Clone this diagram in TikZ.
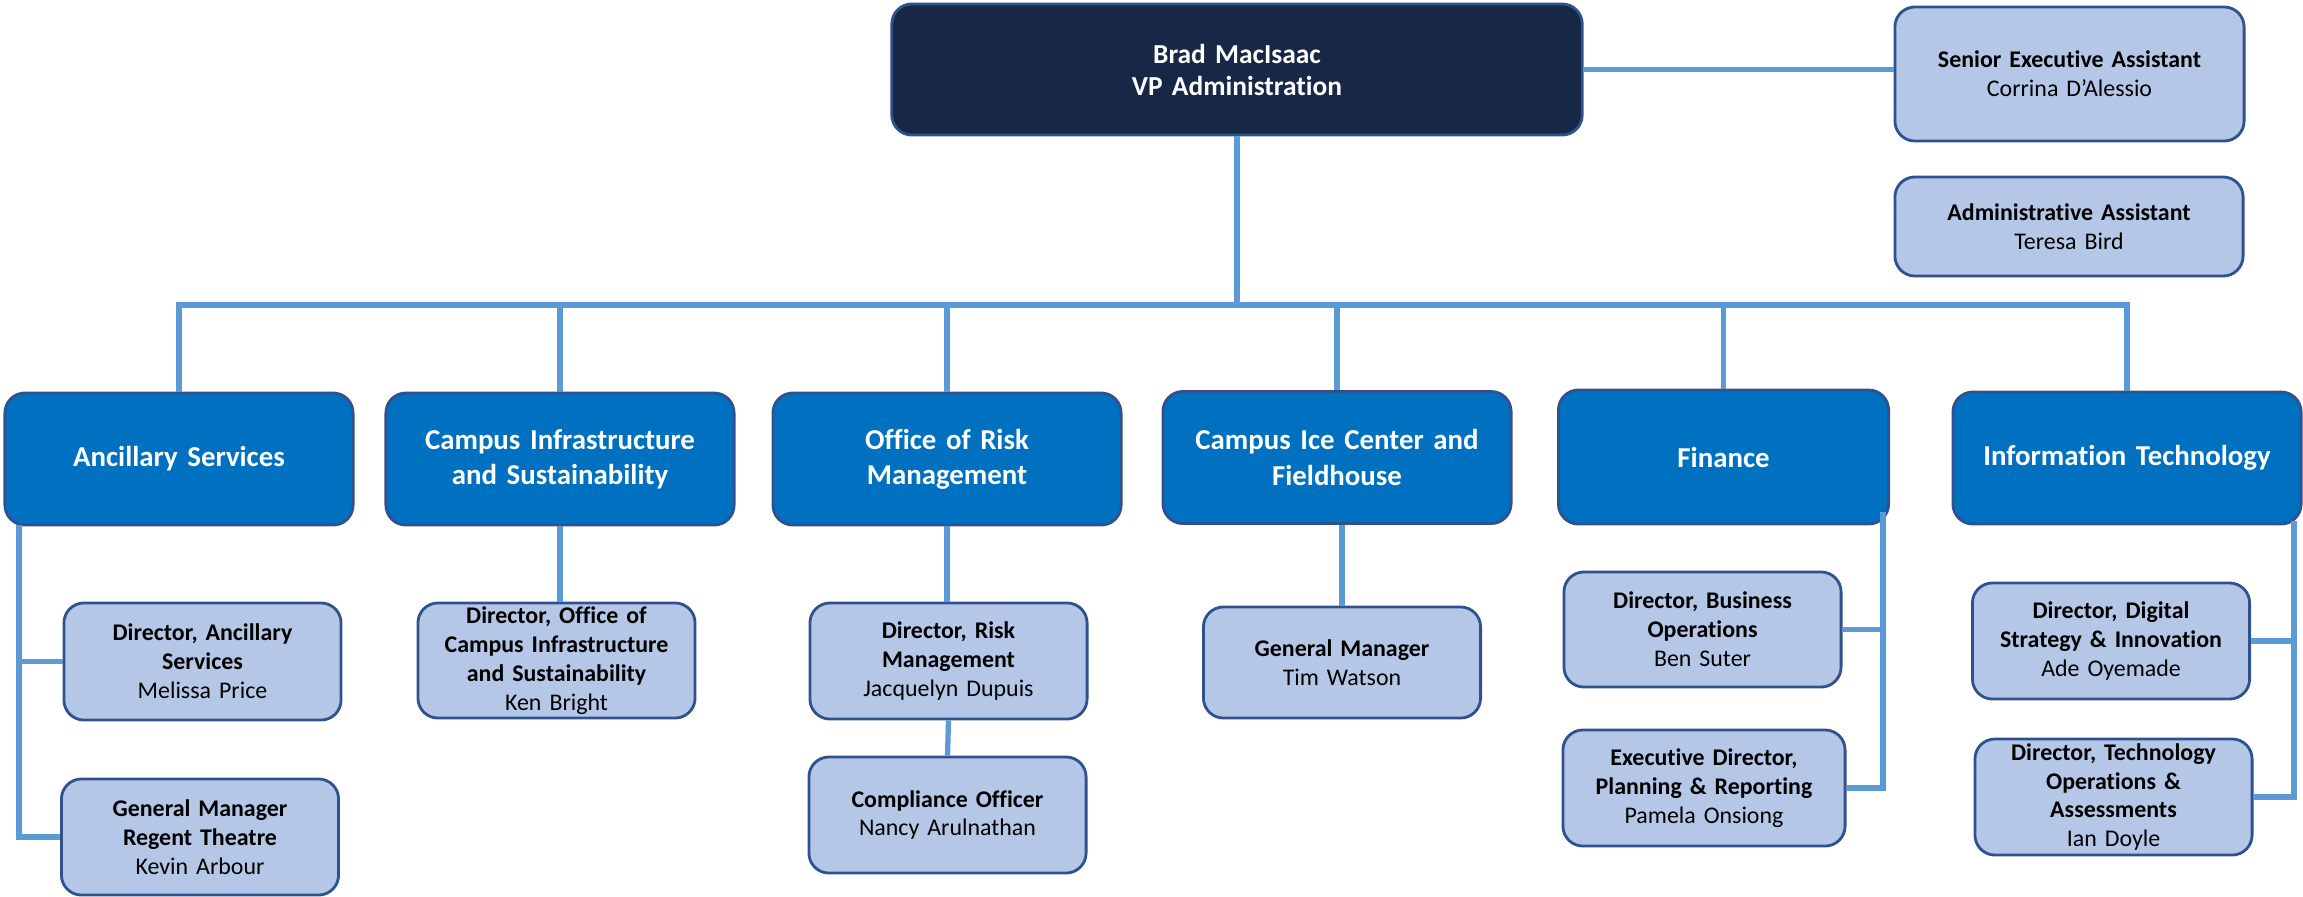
\documentclass[tikz,border=0pt]{standalone}
\usepackage{fontspec}
\setmainfont{Carlito}[Ligatures=NoCommon]
\definecolor{navy}{HTML}{172746}
\definecolor{deptblue}{HTML}{0070C0}
\definecolor{staffblue}{HTML}{B4C7E7}
\definecolor{edgeblue}{HTML}{2F528F}
\definecolor{linkblue}{HTML}{5B9BD5}
\begin{document}
\begin{tikzpicture}[x=0.01cm, y=-0.01cm,
  box/.style={draw=edgeblue, line width=0.8pt, rounded corners=0.2cm, align=center, inner sep=0pt},
  chief/.style={box, fill=navy, text=white, minimum width=6.9cm, minimum height=1.31cm, text width=6.5cm, font=\fontsize{7.8}{9.1}\selectfont\bfseries},
  dept/.style={box, fill=deptblue, text=white, minimum width=3.48cm, minimum height=1.32cm, text width=3.3cm, font=\fontsize{8.2}{10}\selectfont\bfseries},
  staff/.style={box, fill=staffblue, minimum width=2.77cm, minimum height=1.16cm, text width=2.7cm, font=\fontsize{6.8}{8.2}\selectfont},
  link/.style={draw=linkblue, line width=1.5pt}]
\useasboundingbox (0,0) rectangle (2303,896);

\node[chief] (vp) at (1237,69.5) {Brad MacIsaac\\VP Administration};
\node[staff, minimum width=3.49cm, minimum height=1.34cm, text width=3.3cm] (sea) at (2069.5,74) {\textbf{Senior Executive Assistant}\\Corrina D’Alessio};
\node[staff, minimum width=3.48cm, minimum height=0.99cm, text width=3.3cm] (aa) at (2069,226.5) {\textbf{Administrative Assistant}\\Teresa Bird};

\node[dept] (anc) at (179,459) {Ancillary Services};
\node[dept] (cis) at (560,459) {Campus Infrastructure\\and Sustainability};
\node[dept] (orm) at (947,459) {Office of Risk\\Management};
\node[dept] (ice) at (1337,457.5) {Campus Ice Center and\\Fieldhouse};
\node[dept, minimum width=3.21cm, minimum height=1.34cm] (fin) at (1723.5,457) {Finance};
\node[dept] (it) at (2127,458) {Information Technology};

\node[staff, minimum height=1.17cm] (danc) at (202.5,661.5) {\textbf{Director, Ancillary}\\\textbf{Services}\\Melissa Price};
\node[staff] (gmr) at (200,837) {\textbf{General Manager}\\\textbf{Regent Theatre}\\Kevin Arbour};
\node[staff, minimum height=1.15cm] (dcis) at (556.5,660.5) {\textbf{Director, Office of}\\\textbf{Campus Infrastructure}\\\textbf{and Sustainability}\\Ken Bright};
\node[staff] (drm) at (948.5,661) {\textbf{Director, Risk}\\\textbf{Management}\\Jacquelyn Dupuis};
\node[staff] (co) at (947.5,815) {\textbf{Compliance Officer}\\Nancy Arulnathan};
\node[staff, minimum height=1.11cm] (gm) at (1342,662.5) {\textbf{General Manager}\\Tim Watson};
\node[staff, minimum height=1.15cm] (dbo) at (1702.5,629.5) {\textbf{Director, Business}\\\textbf{Operations}\\Ben Suter};
\node[staff, minimum width=2.82cm] (edp) at (1704,788) {\textbf{Executive Director,}\\\textbf{Planning \& Reporting}\\Pamela Onsiong};
\node[staff] (dds) at (2111,641) {\textbf{Director, Digital}\\\textbf{Strategy \& Innovation}\\Ade Oyemade};
\node[staff] (dto) at (2113.5,797) {\textbf{Director, Technology}\\\textbf{Operations \&}\\\textbf{Assessments}\\Ian Doyle};

\coordinate (bus) at (0,305);
\coordinate (ancrail) at (19,525);
\coordinate (finrail) at (1883,512);
\coordinate (itrail) at (2294,521);

\draw[link] (vp.east) -- (vp.east -| sea.west);
\draw[link] (vp.south) -- (vp.south |- bus);
\draw[link] (anc.north) -- (anc.north |- bus) -- (it.north |- bus) -- (it.north);
\foreach \d in {cis,orm,ice,fin}
  \draw[link] (\d.north) -- (\d.north |- bus);

\draw[link] (ancrail) |- (gmr.west);
\draw[link] (danc.west) -- (danc.west -| ancrail);
\draw[link] (dcis.north -| cis.south) -- (cis.south);
\draw[link] (orm.south) -- (orm.south |- drm.north);
\draw[link] (drm.south) -- (co.north);
\draw[link] (gm.north |- ice.south) -- (gm.north);
\draw[link] (finrail) |- (edp.east);
\draw[link] (dbo.east) -- (dbo.east -| finrail);
\draw[link] (itrail) |- (dto.east);
\draw[link] (dds.east) -- (dds.east -| itrail);
\end{tikzpicture}
\end{document}
